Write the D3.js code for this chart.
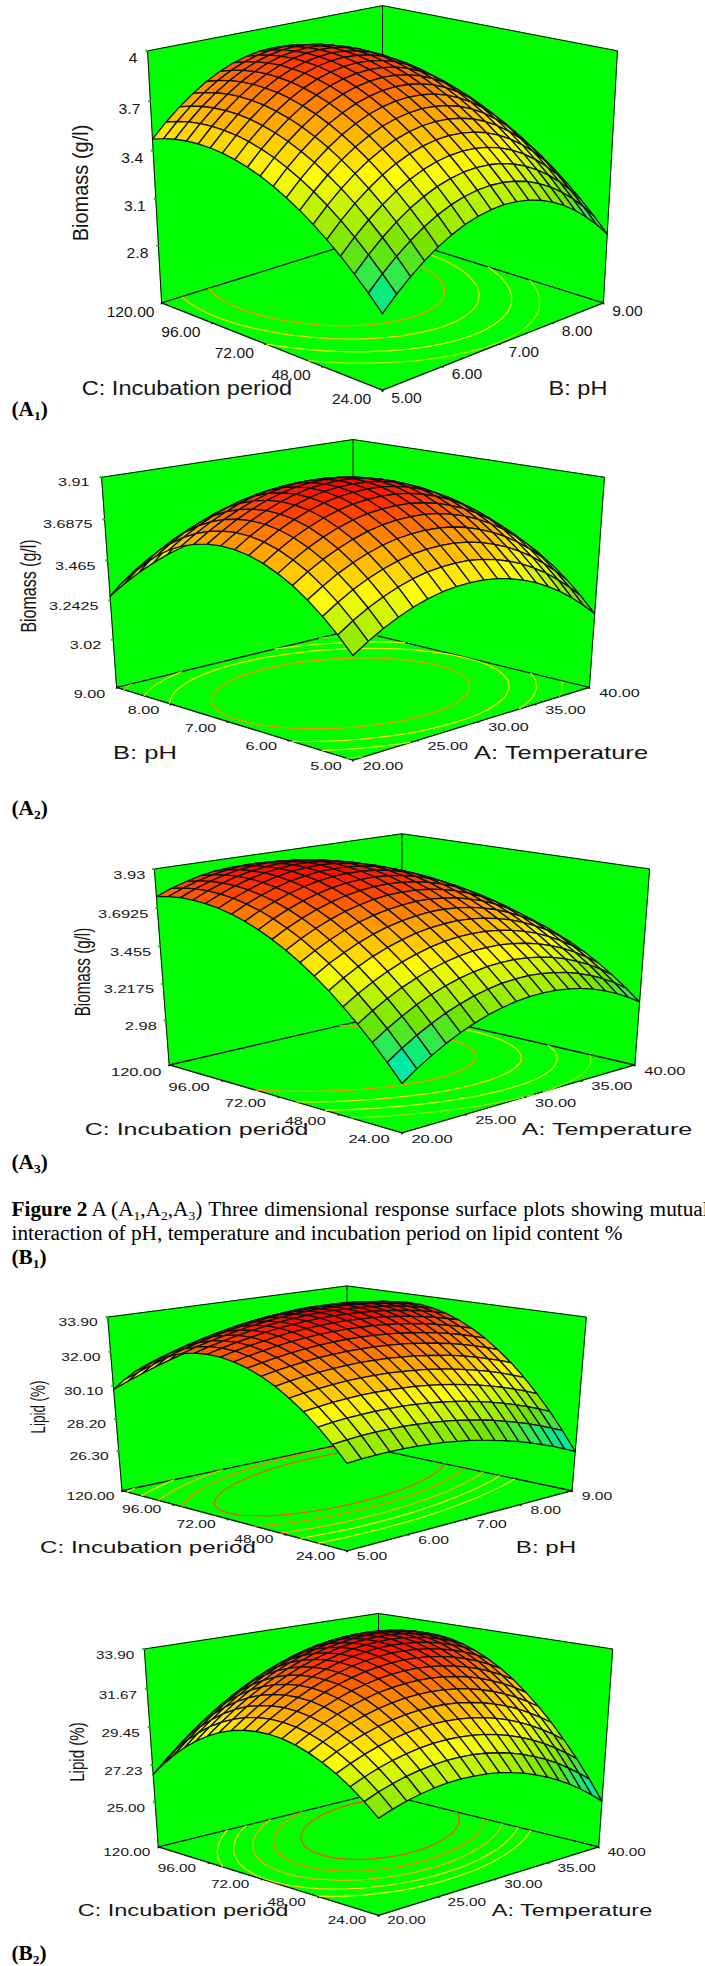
<!DOCTYPE html>
<html>
<head>
<meta charset="utf-8">
<script src="https://d3js.org/d3.v7.min.js"></script>
<style>
  body { margin: 0; background: #fff; }
  svg { display: block; }
</style>
</head>
<body>
<svg id="page" width="705" height="1966"></svg>
<script>
// axis labels
const phTicks = ['5.00', '6.00', '7.00', '8.00', '9.00']
const periodTicks = ['24.00', '48.00', '72.00', '96.00', '120.00']
const tempTicks = ['20.00', '25.00', '30.00', '35.00', '40.00']
const biomassTicksA1 = ['4', '3.7', '3.4', '3.1', '2.8']
const biomassTicksA2 = ['3.91', '3.6875', '3.465', '3.2425', '3.02']
const biomassTicksA3 = ['3.93', '3.6925', '3.455', '3.2175', '2.98']
const lipidTicksB1 = ['33.90', '32.00', '30.10', '28.20', '26.30']
const lipidTicksB2 = ['33.90', '31.67', '29.45', '27.23', '25.00']

// contour levels drawn on the floor
const levelsA1 = [3.72, 3.59, 3.44, 3.29]
const levelsA2 = [3.71, 3.57, 3.45, 3.32]
const levelsA3 = [3.715, 3.58, 3.45, 3.31]
const levelsB1 = [33.0, 32.45, 31.75, 31.0, 30.2]
const levelsB2 = [32.9, 32.15, 31.45, 30.7, 30.0]

// surface heights. one row per step of the left axis, one column per step of the right axis
const biomassPhPeriod = [
[2.875,2.959,3.033,3.097,3.152,3.196,3.231,3.255,3.270,3.275,3.270,3.255,3.231,3.196,3.152,3.097,3.033,2.959,2.875],
[2.965,3.049,3.123,3.187,3.242,3.286,3.321,3.345,3.360,3.365,3.360,3.345,3.321,3.286,3.242,3.187,3.123,3.049,2.965],
[3.048,3.132,3.206,3.270,3.325,3.369,3.404,3.428,3.443,3.448,3.443,3.428,3.404,3.369,3.325,3.270,3.206,3.132,3.048],
[3.124,3.208,3.282,3.346,3.401,3.445,3.480,3.504,3.519,3.524,3.519,3.504,3.480,3.445,3.401,3.346,3.282,3.208,3.124],
[3.194,3.278,3.352,3.416,3.471,3.515,3.550,3.574,3.589,3.594,3.589,3.574,3.550,3.515,3.471,3.416,3.352,3.278,3.194],
[3.257,3.341,3.415,3.479,3.534,3.578,3.613,3.637,3.652,3.657,3.652,3.637,3.613,3.578,3.534,3.479,3.415,3.341,3.257],
[3.313,3.397,3.471,3.535,3.590,3.634,3.669,3.693,3.708,3.713,3.708,3.693,3.669,3.634,3.590,3.535,3.471,3.397,3.313],
[3.363,3.447,3.521,3.585,3.640,3.684,3.719,3.743,3.758,3.763,3.758,3.743,3.719,3.684,3.640,3.585,3.521,3.447,3.363],
[3.406,3.490,3.564,3.628,3.683,3.727,3.762,3.786,3.801,3.806,3.801,3.786,3.762,3.727,3.683,3.628,3.564,3.490,3.406],
[3.443,3.527,3.601,3.665,3.720,3.764,3.799,3.823,3.838,3.843,3.838,3.823,3.799,3.764,3.720,3.665,3.601,3.527,3.443],
[3.472,3.556,3.630,3.694,3.749,3.793,3.828,3.852,3.867,3.872,3.867,3.852,3.828,3.793,3.749,3.694,3.630,3.556,3.472],
[3.495,3.579,3.653,3.717,3.772,3.816,3.851,3.875,3.890,3.895,3.890,3.875,3.851,3.816,3.772,3.717,3.653,3.579,3.495],
[3.512,3.596,3.670,3.734,3.789,3.833,3.868,3.892,3.907,3.912,3.907,3.892,3.868,3.833,3.789,3.734,3.670,3.596,3.512],
[3.521,3.605,3.679,3.743,3.798,3.842,3.877,3.901,3.916,3.921,3.916,3.901,3.877,3.842,3.798,3.743,3.679,3.605,3.521],
[3.525,3.609,3.683,3.747,3.802,3.846,3.881,3.905,3.920,3.925,3.920,3.905,3.881,3.846,3.802,3.747,3.683,3.609,3.525],
[3.521,3.605,3.679,3.743,3.798,3.842,3.877,3.901,3.916,3.921,3.916,3.901,3.877,3.842,3.798,3.743,3.679,3.605,3.521],
[3.511,3.595,3.669,3.733,3.788,3.832,3.867,3.891,3.906,3.911,3.906,3.891,3.867,3.832,3.788,3.733,3.669,3.595,3.511],
[3.494,3.578,3.652,3.716,3.771,3.815,3.850,3.874,3.889,3.894,3.889,3.874,3.850,3.815,3.771,3.716,3.652,3.578,3.494],
[3.470,3.554,3.628,3.692,3.747,3.791,3.826,3.850,3.865,3.870,3.865,3.850,3.826,3.791,3.747,3.692,3.628,3.554,3.470]
]

const biomassTempPh = [
[3.283,3.335,3.381,3.419,3.451,3.476,3.494,3.504,3.508,3.506,3.496,3.479,3.455,3.425,3.387,3.343,3.291,3.233,3.168],
[3.367,3.419,3.465,3.503,3.535,3.560,3.578,3.588,3.592,3.590,3.580,3.563,3.539,3.509,3.471,3.427,3.375,3.317,3.252],
[3.441,3.493,3.539,3.577,3.609,3.634,3.652,3.662,3.666,3.664,3.654,3.637,3.613,3.583,3.545,3.501,3.449,3.391,3.326],
[3.505,3.557,3.603,3.641,3.673,3.698,3.716,3.726,3.730,3.728,3.718,3.701,3.677,3.647,3.609,3.565,3.513,3.455,3.390],
[3.560,3.612,3.658,3.696,3.728,3.753,3.771,3.781,3.785,3.783,3.773,3.756,3.732,3.702,3.664,3.620,3.568,3.510,3.445],
[3.603,3.655,3.701,3.739,3.771,3.796,3.814,3.824,3.828,3.826,3.816,3.799,3.775,3.745,3.707,3.663,3.611,3.553,3.488],
[3.638,3.690,3.736,3.774,3.806,3.831,3.849,3.859,3.863,3.861,3.851,3.834,3.810,3.780,3.742,3.698,3.646,3.588,3.523],
[3.662,3.714,3.760,3.798,3.830,3.855,3.873,3.883,3.887,3.885,3.875,3.858,3.834,3.804,3.766,3.722,3.670,3.612,3.547],
[3.676,3.728,3.774,3.812,3.844,3.869,3.887,3.897,3.901,3.899,3.889,3.872,3.848,3.818,3.780,3.736,3.684,3.626,3.561],
[3.680,3.732,3.778,3.816,3.848,3.873,3.891,3.901,3.905,3.903,3.893,3.876,3.852,3.822,3.784,3.740,3.688,3.630,3.565],
[3.674,3.726,3.772,3.810,3.842,3.867,3.885,3.895,3.899,3.897,3.887,3.870,3.846,3.816,3.778,3.734,3.682,3.624,3.559],
[3.658,3.710,3.756,3.794,3.826,3.851,3.869,3.879,3.883,3.881,3.871,3.854,3.830,3.800,3.762,3.718,3.666,3.608,3.543],
[3.632,3.684,3.730,3.768,3.800,3.825,3.843,3.853,3.857,3.855,3.845,3.828,3.804,3.774,3.736,3.692,3.640,3.582,3.517],
[3.596,3.648,3.694,3.732,3.764,3.789,3.807,3.817,3.821,3.819,3.809,3.792,3.768,3.738,3.700,3.656,3.604,3.546,3.481],
[3.550,3.602,3.648,3.686,3.718,3.743,3.761,3.771,3.775,3.773,3.763,3.746,3.722,3.692,3.654,3.610,3.558,3.500,3.435],
[3.495,3.547,3.593,3.631,3.663,3.688,3.706,3.716,3.720,3.718,3.708,3.691,3.667,3.637,3.599,3.555,3.503,3.445,3.380],
[3.429,3.481,3.527,3.565,3.597,3.622,3.640,3.650,3.654,3.652,3.642,3.625,3.601,3.571,3.533,3.489,3.437,3.379,3.314],
[3.353,3.405,3.451,3.489,3.521,3.546,3.564,3.574,3.578,3.576,3.566,3.549,3.525,3.495,3.457,3.413,3.361,3.303,3.238],
[3.267,3.319,3.365,3.403,3.435,3.460,3.478,3.488,3.492,3.490,3.480,3.463,3.439,3.409,3.371,3.327,3.275,3.217,3.152]
]

const biomassTempPeriod = [
[2.980,3.043,3.099,3.149,3.192,3.228,3.258,3.281,3.298,3.308,3.311,3.308,3.298,3.282,3.259,3.229,3.193,3.150,3.101],
[3.081,3.142,3.197,3.245,3.287,3.321,3.350,3.371,3.387,3.395,3.397,3.392,3.380,3.363,3.338,3.307,3.269,3.225,3.174],
[3.176,3.236,3.289,3.336,3.376,3.409,3.435,3.455,3.469,3.476,3.476,3.470,3.457,3.438,3.412,3.379,3.340,3.294,3.241],
[3.263,3.321,3.373,3.418,3.456,3.488,3.513,3.532,3.544,3.549,3.548,3.540,3.525,3.505,3.477,3.443,3.402,3.354,3.301],
[3.344,3.401,3.451,3.494,3.531,3.561,3.585,3.602,3.613,3.616,3.613,3.604,3.588,3.566,3.537,3.500,3.458,3.409,3.354],
[3.419,3.474,3.523,3.565,3.600,3.628,3.651,3.666,3.675,3.678,3.673,3.662,3.644,3.621,3.590,3.552,3.509,3.458,3.401],
[3.486,3.540,3.586,3.627,3.661,3.688,3.708,3.722,3.730,3.731,3.724,3.712,3.693,3.668,3.635,3.596,3.551,3.499,3.440],
[3.546,3.598,3.643,3.683,3.715,3.740,3.759,3.771,3.778,3.777,3.769,3.755,3.734,3.708,3.674,3.633,3.586,3.532,3.473],
[3.600,3.651,3.694,3.732,3.763,3.786,3.804,3.815,3.819,3.817,3.808,3.792,3.770,3.741,3.706,3.664,3.615,3.560,3.499],
[3.647,3.696,3.738,3.774,3.803,3.826,3.842,3.851,3.854,3.850,3.839,3.822,3.798,3.768,3.732,3.688,3.638,3.581,3.518],
[3.687,3.735,3.775,3.810,3.837,3.858,3.872,3.880,3.882,3.876,3.864,3.845,3.820,3.788,3.750,3.705,3.653,3.595,3.530],
[3.721,3.767,3.806,3.839,3.865,3.884,3.897,3.903,3.903,3.896,3.882,3.862,3.835,3.802,3.762,3.715,3.662,3.603,3.537],
[3.747,3.791,3.829,3.860,3.885,3.902,3.914,3.918,3.917,3.908,3.893,3.871,3.843,3.808,3.767,3.718,3.664,3.602,3.535],
[3.767,3.810,3.846,3.876,3.899,3.915,3.925,3.928,3.925,3.914,3.897,3.874,3.844,3.808,3.765,3.715,3.659,3.596,3.527],
[3.780,3.821,3.856,3.884,3.906,3.920,3.928,3.930,3.925,3.914,3.895,3.870,3.839,3.801,3.757,3.705,3.647,3.583,3.512],
[3.786,3.826,3.859,3.886,3.905,3.918,3.925,3.925,3.919,3.906,3.886,3.859,3.826,3.787,3.741,3.688,3.629,3.562,3.490],
[3.786,3.824,3.856,3.881,3.899,3.911,3.916,3.914,3.906,3.892,3.870,3.842,3.808,3.767,3.719,3.665,3.604,3.536,3.463],
[3.778,3.815,3.845,3.868,3.885,3.895,3.899,3.895,3.886,3.870,3.847,3.817,3.781,3.739,3.690,3.634,3.571,3.502,3.427],
[3.764,3.799,3.827,3.850,3.865,3.873,3.875,3.871,3.860,3.842,3.817,3.786,3.749,3.705,3.654,3.596,3.533,3.462,3.385]
]

const lipidPhPeriod = [
[28.60,28.66,28.70,28.72,28.72,28.69,28.64,28.57,28.47,28.36,28.22,28.05,27.87,27.66,27.43,27.18,26.91,26.61,26.29],
[29.42,29.49,29.55,29.58,29.59,29.58,29.54,29.48,29.40,29.30,29.17,29.03,28.86,28.66,28.45,28.21,27.95,27.67,27.36],
[30.15,30.24,30.31,30.35,30.38,30.38,30.36,30.31,30.25,30.16,30.05,29.91,29.76,29.58,29.38,29.15,28.91,28.64,28.35],
[30.79,30.90,30.98,31.04,31.08,31.09,31.08,31.05,31.00,30.93,30.83,30.71,30.57,30.41,30.22,30.01,29.78,29.52,29.25],
[31.34,31.46,31.56,31.63,31.69,31.72,31.72,31.71,31.67,31.61,31.53,31.42,31.29,31.14,30.97,30.78,30.56,30.32,30.06],
[31.81,31.94,32.06,32.14,32.21,32.25,32.28,32.27,32.25,32.20,32.14,32.04,31.93,31.80,31.64,31.46,31.25,31.03,30.78],
[32.19,32.34,32.46,32.57,32.65,32.70,32.74,32.75,32.74,32.71,32.66,32.58,32.48,32.36,32.22,32.05,31.86,31.65,31.41],
[32.48,32.64,32.78,32.90,32.99,33.07,33.12,33.14,33.15,33.13,33.09,33.03,32.94,32.83,32.71,32.55,32.38,32.18,31.96],
[32.68,32.86,33.01,33.15,33.25,33.34,33.41,33.45,33.47,33.46,33.44,33.39,33.32,33.22,33.11,32.97,32.81,32.62,32.42],
[32.80,32.99,33.16,33.30,33.43,33.53,33.61,33.66,33.69,33.71,33.69,33.66,33.60,33.52,33.42,33.30,33.15,32.98,32.79],
[32.83,33.03,33.22,33.37,33.51,33.63,33.72,33.79,33.84,33.86,33.86,33.84,33.80,33.74,33.65,33.54,33.41,33.25,33.07],
[32.77,32.99,33.18,33.36,33.51,33.64,33.75,33.83,33.89,33.93,33.95,33.94,33.91,33.86,33.79,33.69,33.57,33.43,33.27],
[32.62,32.86,33.07,33.25,33.42,33.56,33.68,33.78,33.86,33.91,33.94,33.95,33.94,33.90,33.84,33.76,33.65,33.53,33.38],
[32.39,32.64,32.86,33.06,33.24,33.40,33.53,33.65,33.74,33.80,33.85,33.87,33.87,33.85,33.80,33.74,33.65,33.53,33.40],
[32.07,32.33,32.57,32.78,32.98,33.15,33.30,33.43,33.53,33.61,33.67,33.71,33.72,33.71,33.68,33.63,33.55,33.46,33.33],
[31.66,31.93,32.18,32.41,32.62,32.81,32.97,33.11,33.23,33.33,33.40,33.45,33.48,33.49,33.47,33.43,33.37,33.29,33.18],
[31.16,31.45,31.72,31.96,32.18,32.38,32.56,32.72,32.85,32.96,33.05,33.11,33.15,33.17,33.17,33.15,33.10,33.03,32.94],
[30.57,30.88,31.16,31.42,31.65,31.87,32.06,32.23,32.38,32.50,32.60,32.68,32.74,32.77,32.79,32.77,32.74,32.69,32.61],
[29.90,30.22,30.51,30.79,31.04,31.27,31.47,31.66,31.82,31.96,32.07,32.17,32.24,32.29,32.31,32.31,32.30,32.25,32.19]
]

const lipidTempPeriod = [
[27.56,27.85,28.09,28.28,28.42,28.51,28.55,28.53,28.47,28.36,28.19,27.98,27.71,27.39,27.03,26.61,26.14,25.62,25.05],
[28.25,28.57,28.83,29.05,29.21,29.32,29.39,29.40,29.36,29.27,29.13,28.94,28.70,28.41,28.07,27.68,27.23,26.74,26.20],
[28.85,29.19,29.48,29.72,29.91,30.05,30.14,30.18,30.16,30.10,29.99,29.82,29.61,29.34,29.02,28.66,28.24,27.77,27.25],
[29.37,29.73,30.05,30.31,30.53,30.69,30.81,30.87,30.88,30.84,30.76,30.62,30.43,30.19,29.89,29.55,29.16,28.72,28.22],
[29.79,30.19,30.53,30.82,31.06,31.25,31.39,31.48,31.51,31.50,31.44,31.32,31.16,30.94,30.68,30.36,29.99,29.57,29.11],
[30.13,30.55,30.92,31.23,31.50,31.72,31.88,31.99,32.06,32.07,32.03,31.94,31.80,31.61,31.37,31.08,30.74,30.35,29.90],
[30.39,30.83,31.22,31.56,31.86,32.10,32.29,32.42,32.51,32.55,32.54,32.47,32.36,32.20,31.98,31.71,31.40,31.03,30.61],
[30.56,31.02,31.44,31.81,32.12,32.39,32.60,32.77,32.88,32.95,32.96,32.92,32.83,32.69,32.50,32.26,31.97,31.63,31.24],
[30.64,31.13,31.57,31.97,32.31,32.60,32.84,33.03,33.17,33.26,33.29,33.28,33.22,33.10,32.94,32.72,32.46,32.14,31.77],
[30.63,31.15,31.62,32.03,32.40,32.72,32.98,33.20,33.36,33.48,33.54,33.55,33.51,33.42,33.28,33.09,32.85,32.56,32.22],
[30.54,31.08,31.57,32.02,32.41,32.75,33.04,33.28,33.47,33.61,33.70,33.74,33.72,33.66,33.54,33.38,33.16,32.90,32.58],
[30.36,30.92,31.44,31.91,32.33,32.70,33.01,33.28,33.49,33.66,33.77,33.83,33.85,33.81,33.72,33.58,33.39,33.15,32.86],
[30.09,30.68,31.23,31.72,32.16,32.56,32.90,33.19,33.43,33.62,33.76,33.84,33.88,33.87,33.81,33.69,33.53,33.31,33.05],
[29.73,30.35,30.92,31.44,31.91,32.33,32.69,33.01,33.28,33.49,33.65,33.77,33.83,33.84,33.81,33.72,33.58,33.39,33.15],
[29.29,29.94,30.53,31.08,31.57,32.01,32.41,32.75,33.04,33.28,33.47,33.61,33.69,33.73,33.72,33.66,33.54,33.38,33.16],
[28.76,29.44,30.05,30.62,31.14,31.61,32.03,32.39,32.71,32.98,33.19,33.36,33.47,33.53,33.54,33.51,33.42,33.28,33.09],
[28.15,28.85,29.49,30.08,30.63,31.12,31.57,31.96,32.30,32.59,32.83,33.02,33.16,33.25,33.28,33.27,33.21,33.09,32.93],
[27.45,28.17,28.84,29.46,30.03,30.55,31.02,31.43,31.80,32.12,32.38,32.60,32.76,32.87,32.94,32.95,32.91,32.82,32.68],
[26.66,27.41,28.10,28.75,29.34,29.89,30.38,30.82,31.21,31.56,31.85,32.09,32.28,32.42,32.50,32.54,32.53,32.46,32.35]
]

// where each plot sits on the page. sx is the horizontal stretch of the pasted picture
const panels = [
  { grid: biomassPhPeriod, rightTicks: phTicks, leftTicks: periodTicks, zTicks: biomassTicksA1, levels: levelsA1,
    zTitle: 'Biomass (g/l)', rightTitle: 'B: pH', leftTitle: 'C: Incubation period',
    cx: 382.5, cy: 180.8, ax: 161, ay: 134, sx: 1.12, tickSize: 14, titleSize: 21, zSize: 20,
    rightOff: [24, 8], leftOff: [-31, 9], zOff: [-10, 7.5],
    zPos: [80, 183], rightPos: [578, 387], leftPos: [187, 387] },
  { grid: biomassTempPh, rightTicks: tempTicks, leftTicks: phTicks, zTicks: biomassTicksA2, levels: levelsA2,
    zTitle: 'Biomass (g/l)', rightTitle: 'A: Temperature', leftTitle: 'B: pH',
    cx: 353, cy: 585.6, ax: 172.3, ay: 111.7, sx: 1.42, tickSize: 11.4, titleSize: 18, zSize: 16,
    rightOff: [30, 5.5], leftOff: [-27, 6], zOff: [-12, 5],
    zPos: [28, 586], rightPos: [561, 753], leftPos: [145, 753] },
  { grid: biomassTempPeriod, rightTicks: tempTicks, leftTicks: periodTicks, zTicks: biomassTicksA3, levels: levelsA3,
    zTitle: 'Biomass (g/l)', rightTitle: 'A: Temperature', leftTitle: 'C: Incubation period',
    cx: 402, cy: 970, ax: 169.7, ay: 104.2, sx: 1.47, tickSize: 11.2, titleSize: 17, zSize: 15.2,
    rightOff: [30, 6], leftOff: [-33, 6.5], zOff: [-9, 5.5],
    zPos: [82, 972], rightPos: [607, 1129], leftPos: [196.5, 1129] },
  { grid: lipidPhPeriod, rightTicks: phTicks, leftTicks: periodTicks, zTicks: lipidTicksB1, levels: levelsB1,
    zTitle: 'Lipid (%)', rightTitle: 'B: pH', leftTitle: 'C: Incubation period',
    cx: 347, cy: 1406.6, ax: 164, ay: 92.3, sx: 1.48, tickSize: 10.6, titleSize: 16.3, zSize: 13.4,
    rightOff: [25, 5.5], leftOff: [-31.5, 5], zOff: [-10, 5],
    zPos: [38, 1407], rightPos: [546, 1547], leftPos: [148, 1547] },
  { grid: lipidTempPeriod, rightTicks: tempTicks, leftTicks: periodTicks, zTicks: lipidTicksB2, levels: levelsB2,
    zTitle: 'Lipid (%)', rightTitle: 'A: Temperature', leftTitle: 'C: Incubation period',
    cx: 378.5, cy: 1751, ax: 160.5, ay: 105.2, sx: 1.37, tickSize: 11.2, titleSize: 17.2, zSize: 15.1,
    rightOff: [28, 5], leftOff: [-31.5, 5], zOff: [-10, 6],
    zPos: [76.5, 1752], rightPos: [572, 1910], leftPos: [183, 1910] }
]

const panelLetters = [
  { letter: 'A', sub: '1', y: 416 },
  { letter: 'A', sub: '2', y: 815 },
  { letter: 'A', sub: '3', y: 1169 },
  { letter: 'B', sub: '2', y: 1960 }
]

const TILT = 20 * Math.PI / 180
const PERSPECTIVE = 0.09
const SQ2 = Math.SQRT2
const SANS = '"Liberation Sans", Arial, sans-serif'
const SERIF = '"Liberation Serif", "Times New Roman", serif'

const surfaceColor = d3.scaleLinear()
  .domain([0, 0.12, 0.3, 0.55, 0.78, 1])
  .range(['#00e0e0', '#00ee88', '#70e400', '#ffff00', '#ff9000', '#ff0000'])
  .clamp(true)

const svg = d3.select('#page')

function label(g, pos, str, size, sx, anchor, rot) {
  g.append('text')
    .attr('transform', `translate(${pos[0]},${pos[1]}) scale(${sx},1)` + (rot ? ` rotate(${rot})` : ''))
    .attr('text-anchor', anchor)
    .attr('dy', '0.36em')
    .attr('font-family', SANS)
    .attr('font-size', size)
    .attr('fill', '#151515')
    .text(str)
}

function drawPanel(p) {
  const g = svg.append('g')
  const n = p.grid.length
  const zNums = p.zTicks.map(Number)
  const zMax = d3.max(zNums), zMin = d3.min(zNums)
  const zFloor = zMin - 1.25 * (zMax - zMin) / 4

  const nodeScale = d3.scaleLinear([0, n - 1], [0, 1])
  const rightScale = d3.scaleLinear(d3.extent(p.rightTicks.map(Number)), [0, 1])
  const leftScale = d3.scaleLinear(d3.extent(p.leftTicks.map(Number)), [0, 1])
  const zScale = d3.scaleLinear([zFloor, zMax], [-1, 1])
  const tScale = d3.scaleLinear([zMin, zMax], [0, 1])

  const sin = Math.sin(TILT), cos = Math.cos(TILT)
  // u runs along the right axis, v along the left axis, front corner is u=v=0
  const project = (u, v, z) => {
    const across = (u - v) * SQ2
    const back = (u + v - 1) * SQ2
    const depth = back * cos - z * sin
    const k = 1 / (1 + PERSPECTIVE * depth)
    return [p.cx + p.ax * across * k, p.cy - p.ay * (z * cos + back * sin) * k, depth]
  }
  const line = d3.line()
  const quad = pts => line(pts.map(d => project(d[0], d[1], d[2]).slice(0, 2))) + 'Z'

  // walls and floor
  const walls = [
    [[0, 1, -1], [1, 1, -1], [1, 1, 1], [0, 1, 1]],
    [[1, 0, -1], [1, 1, -1], [1, 1, 1], [1, 0, 1]],
    [[0, 0, -1], [1, 0, -1], [1, 1, -1], [0, 1, -1]]
  ]
  g.selectAll('path.wall').data(walls).enter().append('path')
    .attr('class', 'wall')
    .attr('d', quad)
    .attr('fill', '#00ff00')
    .attr('stroke', '#00ff00')

  const edges = [
    [[0, 1, 1], [1, 1, 1], 1], [[1, 1, 1], [1, 0, 1], 1], [[1, 1, 1], [1, 1, -1], 1],
    [[0, 1, 1], [0, 1, -1], 1], [[1, 0, 1], [1, 0, -1], 1],
    [[0, 1, -1], [1, 1, -1], 1.3], [[1, 0, -1], [1, 1, -1], 1.3],
    [[0, 1, -1], [0, 0, -1], 1.3], [[1, 0, -1], [0, 0, -1], 1.3]
  ]
  g.selectAll('path.edge').data(edges).enter().append('path')
    .attr('class', 'edge')
    .attr('d', d => line([project(...d[0]).slice(0, 2), project(...d[1]).slice(0, 2)]))
    .attr('fill', 'none')
    .attr('stroke', '#111')
    .attr('stroke-width', d => d[2])

  // contour lines on the floor, border pieces of the rings are dropped
  const flat = p.grid.flat()
  const contours = d3.contours().size([n, n]).smooth(true)
  p.levels.forEach(level => {
    const geo = contours.contour(flat, level)
    geo.coordinates.forEach(poly => poly.forEach(ring => {
      let run = []
      const flush = () => {
        if (run.length > 1) {
          g.append('path')
            .attr('d', line(run))
            .attr('fill', 'none')
            .attr('stroke', surfaceColor(tScale(level)))
            .attr('stroke-width', 1.25)
        }
        run = []
      }
      ring.forEach(pt => {
        const onBorder = pt[0] <= 0 || pt[1] <= 0 || pt[0] >= n || pt[1] >= n
        if (onBorder) { flush(); return }
        run.push(project(nodeScale(pt[0] - 0.5), nodeScale(pt[1] - 0.5), -1).slice(0, 2))
      })
      flush()
    }))
  })

  // little tick marks on the floor edges and on the height axis
  p.rightTicks.forEach(t => {
    const a = project(rightScale(+t), 0, -1)
    g.append('circle').attr('cx', a[0]).attr('cy', a[1] + 0.5).attr('r', 1).attr('fill', '#111')
    label(g, [a[0] + p.rightOff[0], a[1] + p.rightOff[1]], t, p.tickSize, p.sx, 'middle')
  })
  p.leftTicks.forEach(t => {
    const a = project(0, leftScale(+t), -1)
    g.append('circle').attr('cx', a[0]).attr('cy', a[1] + 0.5).attr('r', 1).attr('fill', '#111')
    label(g, [a[0] + p.leftOff[0], a[1] + p.leftOff[1]], t, p.tickSize, p.sx, 'middle')
  })
  p.zTicks.forEach(t => {
    const a = project(0, 1, zScale(+t))
    g.append('circle').attr('cx', a[0] - 1).attr('cy', a[1]).attr('r', 1.3).attr('fill', '#00e000')
    label(g, [a[0] + p.zOff[0], a[1] + p.zOff[1]], t, p.tickSize, p.sx, 'end')
  })

  // surface cells, far ones first
  const cells = []
  for (let j = 0; j < n - 1; j++) {
    for (let i = 0; i < n - 1; i++) {
      const corners = [[i, j], [i + 1, j], [i + 1, j + 1], [i, j + 1]]
      const pts = corners.map(c => project(nodeScale(c[0]), nodeScale(c[1]), zScale(p.grid[c[1]][c[0]])))
      cells.push({
        pts: pts,
        depth: d3.mean(pts, d => d[2]),
        value: d3.mean(corners, c => p.grid[c[1]][c[0]])
      })
    }
  }
  cells.sort((a, b) => b.depth - a.depth)
  g.append('g').selectAll('path').data(cells).enter().append('path')
    .attr('d', d => line(d.pts.map(q => q.slice(0, 2))) + 'Z')
    .attr('fill', d => surfaceColor(tScale(d.value)))
    .attr('stroke', '#101010')
    .attr('stroke-width', 1.3)
    .attr('stroke-linejoin', 'round')

  label(g, p.zPos, p.zTitle, p.zSize, p.sx, 'middle', -90)
  label(g, p.rightPos, p.rightTitle, p.titleSize, p.sx, 'middle')
  label(g, p.leftPos, p.leftTitle, p.titleSize, p.sx, 'middle')
}

panels.forEach(drawPanel)

// panel letters and the caption are plain page text in the source
function runs(y, parts) {
  const t = svg.append('text')
    .attr('x', 11.5).attr('y', y)
    .attr('font-family', SERIF)
    .attr('font-size', 21.3)
    .attr('fill', '#000')
  parts.forEach(part => {
    t.append('tspan')
      .attr('font-weight', part.bold ? 'bold' : 'normal')
      .attr('font-size', part.sub ? 13.5 : 21.3)
      .attr('dy', part.sub ? 3.5 : (part.after ? -3.5 : 0))
      .attr('word-spacing', part.spread || 0)
      .text(part.text)
  })
}

panelLetters.forEach(d => {
  runs(d.y, [
    { text: '(' + d.letter, bold: true },
    { text: d.sub, bold: true, sub: true },
    { text: ')', bold: true, after: true }
  ])
})

runs(1216, [
  { text: 'Figure 2', bold: true },
  { text: ' A (A' },
  { text: '1', sub: true },
  { text: ',A', after: true },
  { text: '2', sub: true },
  { text: ',A', after: true },
  { text: '3', sub: true },
  { text: ') Three dimensional response surface plots showing mutual', after: true, spread: 1 }
])
runs(1240, [{ text: 'interaction of pH, temperature and incubation period on lipid content %' }])
runs(1264, [
  { text: '(B', bold: true },
  { text: '1', bold: true, sub: true },
  { text: ')', bold: true, after: true }
])
</script>
</body>
</html>
